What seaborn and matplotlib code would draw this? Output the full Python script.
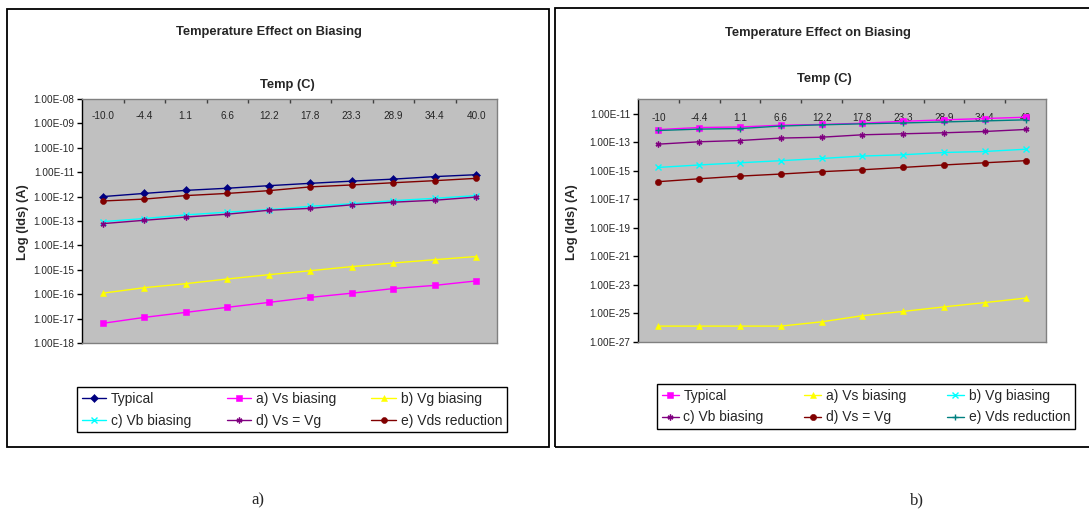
import numpy as np
import pandas as pd
import matplotlib
matplotlib.use("Agg")
import matplotlib.pyplot as plt
from matplotlib.patches import Rectangle
from matplotlib.ticker import FixedLocator, FuncFormatter
import seaborn as sns

# ---------------- data ----------------
temps_a = ["-10.0", "-4.4", "1.1", "6.6", "12.2", "17.8", "23.3", "28.9", "34.4", "40.0"]
temps_b = ["-10", "-4.4", "1.1", "6.6", "12.2", "17.8", "23.3", "28.9", "34.4", "40"]

series_names = ["Typical", "a) Vs biasing", "b) Vg biasing", "c) Vb biasing",
                "d) Vs = Vg", "e) Vds reduction"]

# chart a)
a_typical = [1.0e-12, 1.35e-12, 1.8e-12, 2.2e-12, 2.8e-12, 3.5e-12, 4.3e-12, 5.2e-12, 6.6e-12, 7.9e-12]
a_vs_bias = [6.4e-18, 1.12e-17, 1.8e-17, 2.9e-17, 4.6e-17, 7.4e-17, 1.1e-16, 1.7e-16, 2.3e-16, 3.5e-16]
a_vg_bias = [1.1e-16, 1.85e-16, 2.7e-16, 4.2e-16, 6.3e-16, 9.2e-16, 1.35e-15, 1.9e-15, 2.6e-15, 3.5e-15]
a_vb_bias = [9.4e-14, 1.26e-13, 1.78e-13, 2.3e-13, 2.9e-13, 4.0e-13, 5.1e-13, 6.8e-13, 8.5e-13, 1.1e-12]
a_vs_eq_vg = [7.8e-14, 1.07e-13, 1.45e-13, 1.9e-13, 2.75e-13, 3.3e-13, 4.6e-13, 5.9e-13, 7.1e-13, 9.6e-13]
a_vds_red = [6.6e-13, 7.9e-13, 1.1e-12, 1.35e-12, 1.75e-12, 2.5e-12, 3.0e-12, 3.7e-12, 4.5e-12, 5.6e-12]

# chart b)
b_typical = [7.9e-13, 1.1e-12, 1.2e-12, 1.6e-12, 1.8e-12, 2.2e-12, 3.0e-12, 3.8e-12, 4.7e-12, 5.8e-12]
b_vs_bias = [1.3e-26, 1.3e-26, 1.3e-26, 1.3e-26, 2.6e-26, 7.0e-26, 1.4e-25, 2.9e-25, 5.8e-25, 1.2e-24]
b_vg_bias = [1.75e-15, 2.6e-15, 3.7e-15, 5.2e-15, 7.4e-15, 1.1e-14, 1.35e-14, 1.95e-14, 2.3e-14, 3.3e-14]
b_vb_bias = [7.5e-14, 1.1e-13, 1.35e-13, 2.0e-13, 2.3e-13, 3.4e-13, 4.0e-13, 4.7e-13, 5.8e-13, 8.0e-13]
b_vs_eq_vg = [1.75e-16, 2.8e-16, 4.3e-16, 6.0e-16, 8.8e-16, 1.2e-15, 1.75e-15, 2.6e-15, 3.7e-15, 5.2e-15]
b_vds_red = [6.8e-13, 8.5e-13, 9.3e-13, 1.4e-12, 1.7e-12, 2.0e-12, 2.3e-12, 2.7e-12, 3.2e-12, 3.8e-12]

yticks_a = [10.0 ** e for e in range(-18, -7)]
yticks_b = [10.0 ** e for e in range(-27, -10, 2)]

title = "Temperature Effect on Biasing"
xlabel = "Temp (C)"
ylabel = "Log (Ids) (A)"

# ---------------- styles ----------------
styles_a = [("#000080", "D", 3.6), ("#FF00FF", "s", 4.0), ("#FFFF00", "^", 5.0),
            ("#00FFFF", "x", 3.8), ("#800080", (6, 2, 0), 4.2), ("#800000", "o", 4.3)]
styles_b = [("#FF00FF", "s", 4.3), ("#FFFF00", "^", 5.0), ("#00FFFF", "x", 3.8),
            ("#800080", (6, 2, 0), 4.2), ("#800000", "o", 4.5), ("#008080", "+", 4.2)]

sns.set_theme(style="white")
plt.rcParams["font.family"] = ["Liberation Sans", "DejaVu Sans"]

W, H = 1089, 513
fig = plt.figure(figsize=(W / 100, H / 100), dpi=100)
fig.patch.set_facecolor("white")


def rect(l, t, r, b):
    return [l / W, 1 - b / H, (r - l) / W, (b - t) / H]


def draw_chart(ax, cats, data, styles, ylim, yticks, tick_pad):
    ax.set_facecolor("#C0C0C0")
    ax.set_yscale("log")
    xpos = np.arange(len(cats))
    handles = []
    for name, vals, (col, mk, ms) in zip(series_names, data, styles):
        df = pd.DataFrame({"x": xpos, "y": vals})
        sns.lineplot(data=df, x="x", y="y", ax=ax, color=col, marker=mk,
                     markersize=ms, markeredgecolor=col, markerfacecolor=col,
                     markeredgewidth=1.0 if mk in ("x", "+") or isinstance(mk, tuple) else 0.4,
                     linewidth=1.0, legend=False, errorbar=None)
        ln = ax.lines[-1]
        ln.set_label(name)
        handles.append(ln)
    ax.set_xlim(-0.5, len(cats) - 0.5)
    ax.set_ylim(*ylim)
    ax.set_xlabel("")
    ax.set_ylabel("")
    # x axis on top with labels inside
    ax.xaxis.tick_top()
    ax.xaxis.set_major_locator(FixedLocator(xpos))
    ax.set_xticklabels(cats, fontsize=7.2)
    ax.xaxis.set_minor_locator(FixedLocator(np.arange(0.5, len(cats) - 1, 1.0)))
    ax.tick_params(axis="x", which="major", length=0, pad=tick_pad, top=True, bottom=False)
    ax.tick_params(axis="x", which="minor", length=3, width=1, direction="in",
                   color="#404040", top=True, bottom=False)
    ax.yaxis.set_major_locator(FixedLocator(yticks))
    ax.yaxis.set_minor_locator(FixedLocator([]))
    ax.yaxis.set_major_formatter(FuncFormatter(lambda v, p: f"{v:.2E}"))
    ax.tick_params(axis="y", which="major", left=True, length=3.5, width=1,
                   direction="out", color="black", labelsize=7.2, pad=2)
    for s in ax.spines.values():
        s.set_color("#808080")
        s.set_linewidth(1.0)
    ax.spines["left"].set_color("black")
    return handles


# ---------- chart a ----------
ax1 = fig.add_axes(rect(82, 99, 497, 343))
h1 = draw_chart(ax1, temps_a,
                [a_typical, a_vs_bias, a_vg_bias, a_vb_bias, a_vs_eq_vg, a_vds_red],
                styles_a, (1e-18, 1e-8), yticks_a, -16)

# ---------- chart b ----------
ax2 = fig.add_axes(rect(638, 99, 1046, 342))
h2 = draw_chart(ax2, temps_b,
                [b_typical, b_vs_bias, b_vg_bias, b_vb_bias, b_vs_eq_vg, b_vds_red],
                styles_b, (1e-27, 1.1e-10), yticks_b, -17)

# titles and labels
fig.text(269 / W, 1 - 32 / H, title, ha="center", va="center", fontsize=9.3, fontweight="bold")
fig.text(287 / W, 1 - 85 / H, xlabel, ha="center", va="center", fontsize=9.3, fontweight="bold")
fig.text(23 / W, 1 - 222 / H, ylabel, ha="center", va="center", rotation=90,
         fontsize=9.3, fontweight="bold")

fig.text(818 / W, 1 - 33 / H, title, ha="center", va="center", fontsize=9.3, fontweight="bold")
fig.text(824 / W, 1 - 79 / H, xlabel, ha="center", va="center", fontsize=9.3, fontweight="bold")
fig.text(572 / W, 1 - 222 / H, ylabel, ha="center", va="center", rotation=90,
         fontsize=9.3, fontweight="bold")

# legends
leg_kw = dict(ncol=3, fontsize=10, frameon=True, fancybox=False, edgecolor="black",
              framealpha=1, borderpad=0.35, labelspacing=0.55, handletextpad=0.35,
              borderaxespad=0, mode="expand", loc="upper left")
lab = series_names
# reorder so entries fill row-wise (matplotlib fills column-wise)
order = [0, 3, 1, 4, 2, 5]


def fig_box(l, t, r, b):
    return (l / W, 1 - b / H, (r - l) / W, (b - t) / H)


leg1 = fig.legend([h1[i] for i in order], [lab[i] for i in order],
                  bbox_to_anchor=fig_box(77, 387, 507, 443), handlelength=1.75, **leg_kw)
leg1.get_frame().set_linewidth(1.0)
leg2 = fig.legend([h2[i] for i in order], [lab[i] for i in order],
                  bbox_to_anchor=fig_box(657, 384, 1075, 443), handlelength=1.2, **leg_kw)
leg2.get_frame().set_linewidth(1.0)

# chart frames
fig.add_artist(Rectangle((7 / W, 1 - 447 / H), (549 - 7) / W, (447 - 9) / H,
                         transform=fig.transFigure, fill=False, ec="black", lw=1.3))
fig.add_artist(Rectangle((555 / W, 1 - 447 / H), (1100 - 555) / W, (447 - 8) / H,
                         transform=fig.transFigure, fill=False, ec="black", lw=1.3))

# panel labels
fig.text(258 / W, 1 - 500 / H, "a)", ha="center", va="center", fontsize=12,
         family=["Liberation Serif", "DejaVu Serif"])
fig.text(917 / W, 1 - 500 / H, "b)", ha="center", va="center", fontsize=12,
         family=["Liberation Serif", "DejaVu Serif"])

fig.savefig("out.png", dpi=100)
